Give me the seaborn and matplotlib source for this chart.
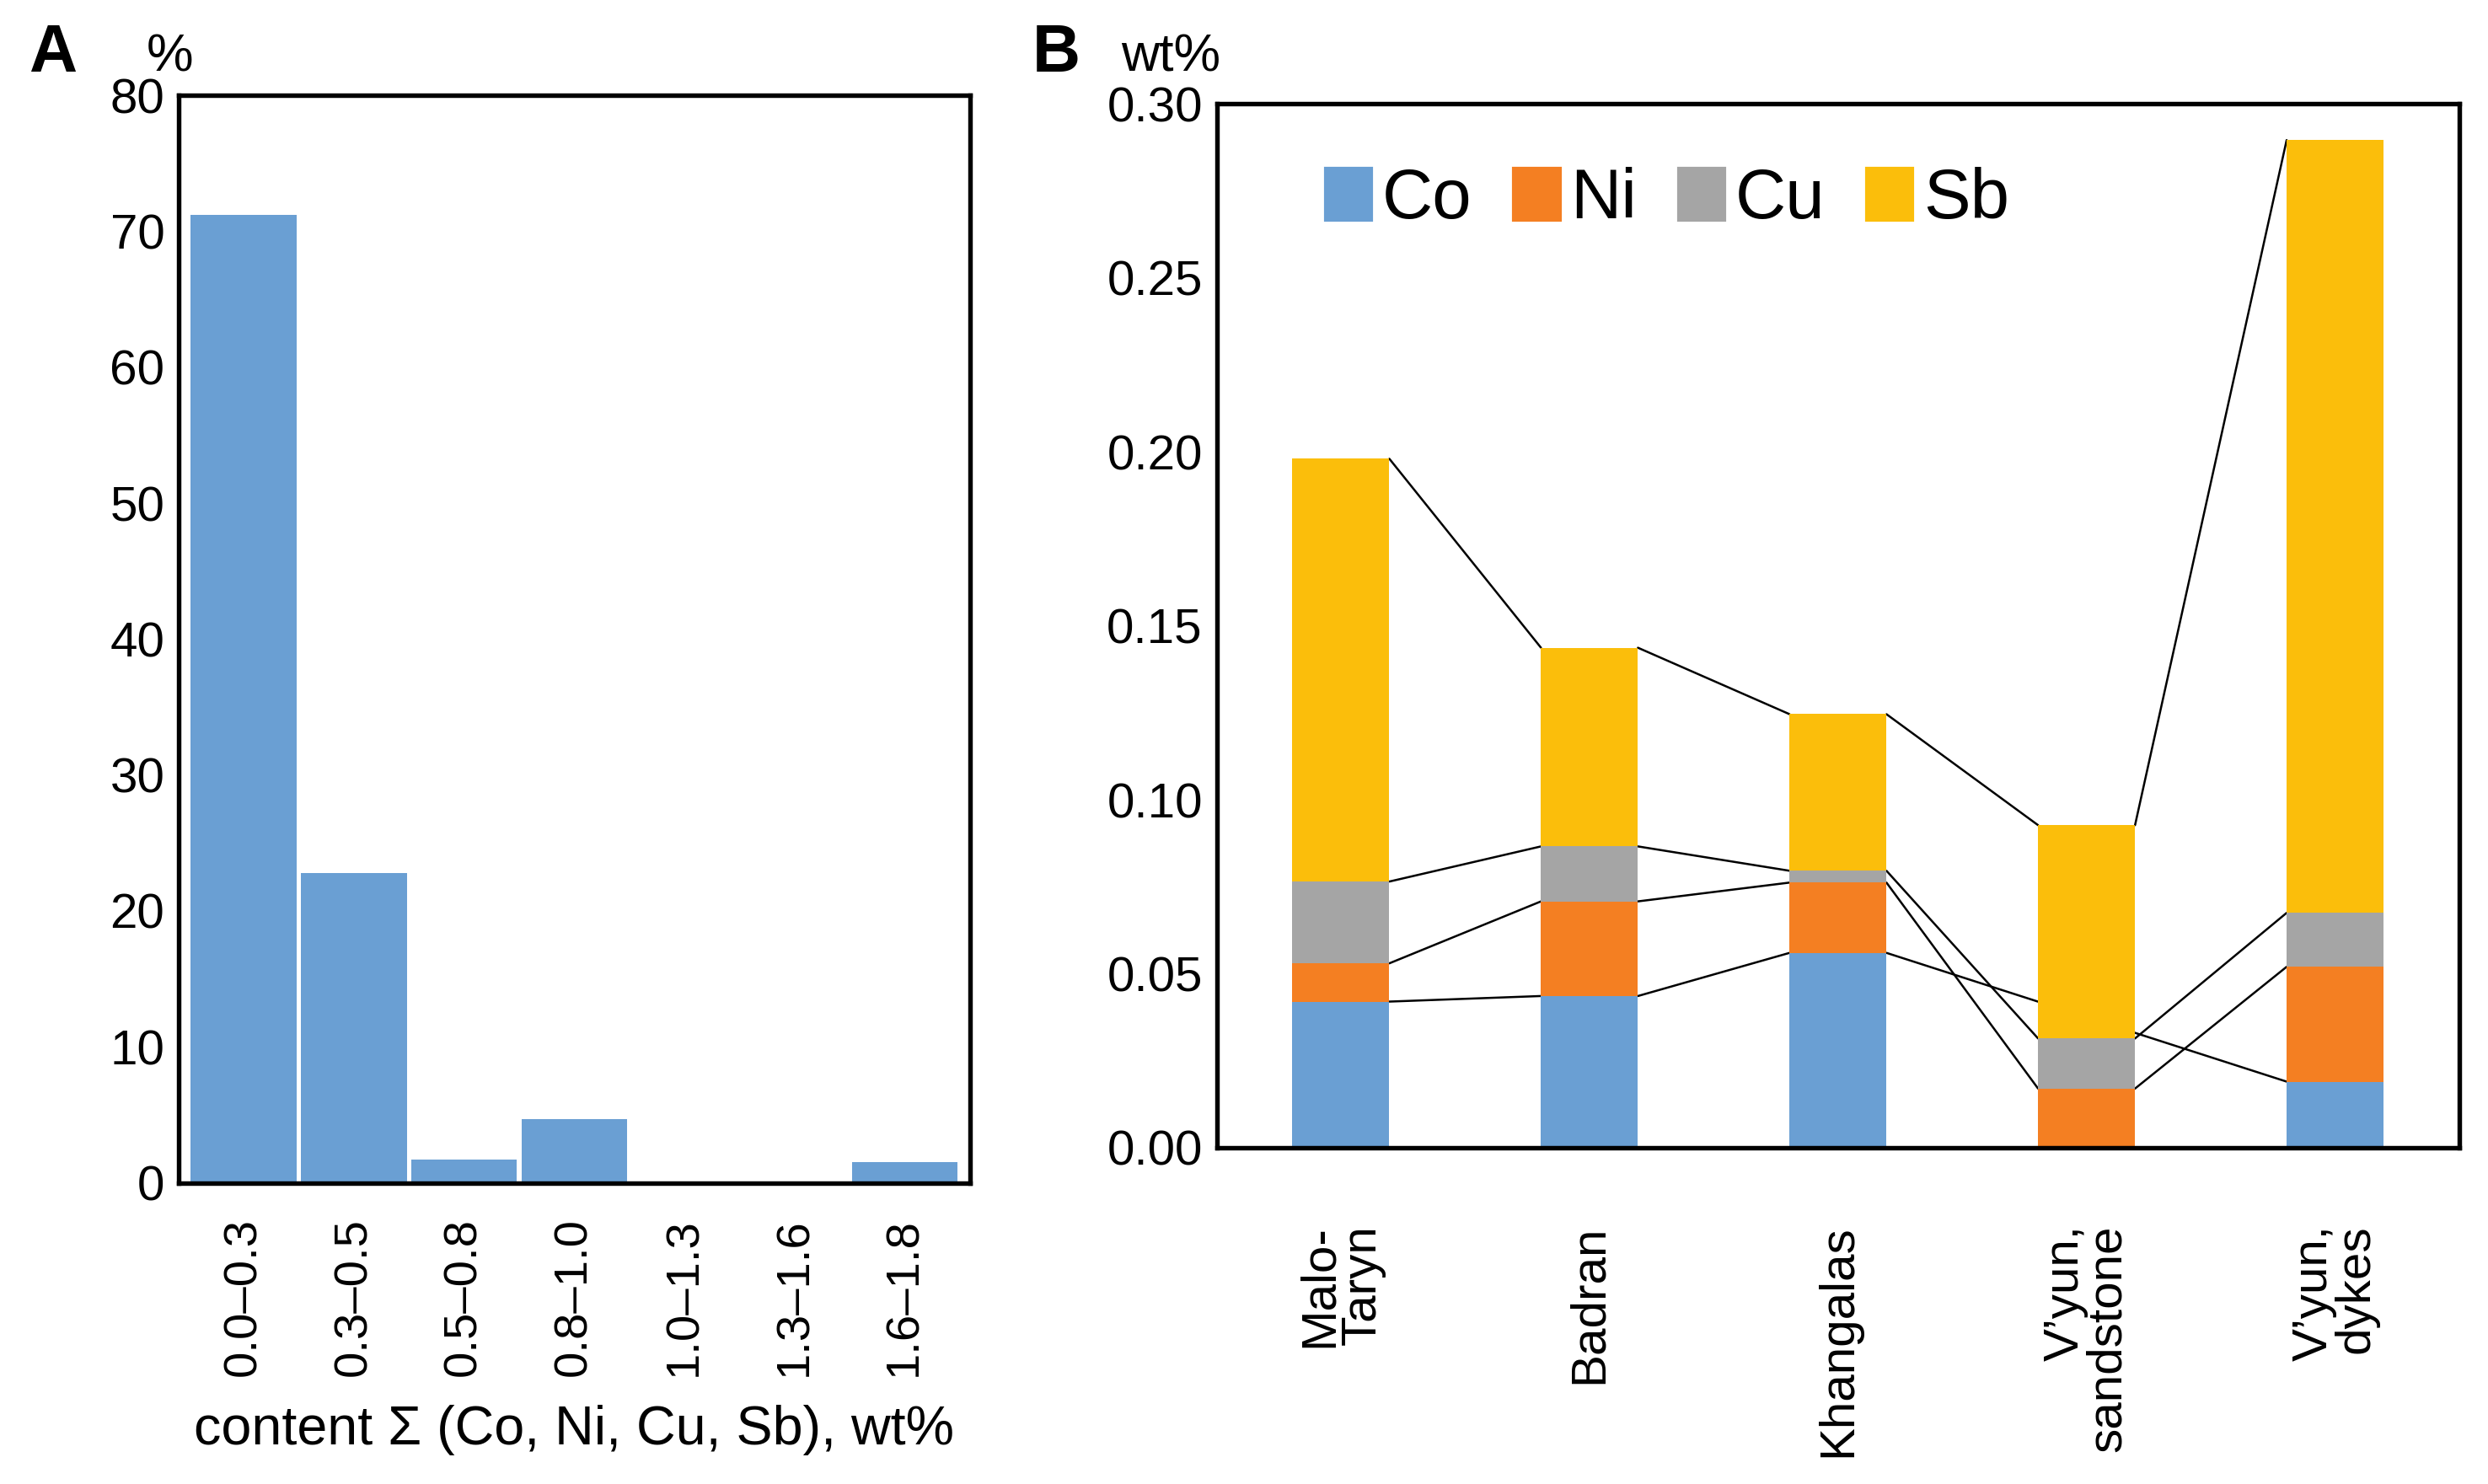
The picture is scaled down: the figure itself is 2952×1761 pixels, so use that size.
import numpy as np
import pandas as pd
import matplotlib
matplotlib.use("Agg")
import matplotlib.pyplot as plt
import seaborn as sns

# panel A: share of samples by total content
bins = ["0.0–0.3", "0.3–0.5", "0.5–0.8", "0.8–1.0", "1.0–1.3", "1.3–1.6", "1.6–1.8"]
share = [71.2, 22.8, 1.7, 4.7, 0.0, 0.0, 1.5]

# panel B: mean contents, wt%
sites = ["Malo-\nTaryn", "Badran", "Khangalas", "V’yun,\nsandstone", "V’yun,\ndykes"]
co = [0.042, 0.0436, 0.056, 0.0, 0.019]
ni = [0.011, 0.0272, 0.0202, 0.017, 0.033]
cu = [0.0235, 0.0158, 0.0034, 0.0144, 0.0155]
sb = [0.1215, 0.0571, 0.045, 0.0613, 0.2221]

elements = ["Co", "Ni", "Cu", "Sb"]
colors = {"Co": "#6a9fd3", "Ni": "#f47f22", "Cu": "#a5a5a5", "Sb": "#fbbe0b"}

sns.set_theme(style="white")
plt.rcParams["font.family"] = ["Liberation Sans", "DejaVu Sans"]
plt.rcParams.update({"text.color": "black", "xtick.color": "black",
                     "ytick.color": "black", "axes.labelcolor": "black",
                     "axes.linewidth": 1.3})

fig = plt.figure(figsize=(9.84, 5.87), dpi=300)
axA = fig.add_axes([0.0718, 0.203, 0.318, 0.7326])
axB = fig.add_axes([0.489, 0.2266, 0.4995, 0.7034])

# ---- A
dfa = pd.DataFrame({"bin": bins, "share": share})
sns.barplot(data=dfa, x="bin", y="share", color="#6a9fd3", saturation=1,
            width=0.96, linewidth=0, edgecolor="none", ax=axA)
axA.set_xlim(-0.59, 6.59)
axA.set_ylim(0, 80)
axA.set_yticks(range(0, 81, 10))
axA.set_xlabel("content Σ (Co, Ni, Cu, Sb), wt%", fontsize=15.5, labelpad=8)
axA.set_ylabel("")
axA.tick_params(axis="x", rotation=90, labelsize=13.5, length=0, pad=10)
axA.tick_params(axis="y", labelsize=14, length=0, pad=4)

# ---- B  stacked bars, drawn as cumulative totals from the top down
dfb = pd.DataFrame({"site": sites, "Co": co, "Ni": ni, "Cu": cu, "Sb": sb})
cum = dfb[elements].cumsum(axis=1)
w = 0.39
for el in elements[::-1]:
    sns.barplot(x=dfb["site"], y=cum[el], color=colors[el], saturation=1,
                width=w, linewidth=0, edgecolor="none", ax=axB, zorder=2)

# series lines between segment tops (skip missing segments)
for el in elements:
    idx = [i for i in range(len(sites)) if dfb[el][i] > 0]
    for a, b in zip(idx[:-1], idx[1:]):
        axB.plot([a + w / 2, b - w / 2], [cum[el][a], cum[el][b]],
                 color="black", lw=0.6, zorder=1)

axB.set_xlim(-0.5, 4.5)
axB.set_ylim(0, 0.30)
axB.set_yticks(np.arange(0, 0.301, 0.05))
axB.yaxis.set_major_formatter(matplotlib.ticker.FormatStrFormatter("%.2f"))
axB.set_xlabel("")
axB.set_ylabel("")
axB.tick_params(axis="y", labelsize=14, length=0, pad=4)
axB.tick_params(axis="x", length=0, pad=22)
for t in axB.get_xticklabels():
    t.set_rotation(90)
    t.set_fontsize(14)
    t.set_va("top")
    t.set_ha("center")
    t.set_multialignment("right")
    t.set_linespacing(0.92)

handles = [matplotlib.patches.Patch(color=colors[e]) for e in elements]
axB.legend(handles, elements, loc="center left", bbox_to_anchor=(0.037, 0.908),
           ncol=4, frameon=False, fontsize=20, handlelength=0.65,
           handleheight=0.75, handletextpad=0.15, columnspacing=0.6)

for ax in (axA, axB):
    for s in ax.spines.values():
        s.set_color("black")
        s.set_linewidth(1.3)

fig.text(0.0115, 0.952, "A", fontsize=19, fontweight="bold")
fig.text(0.059, 0.952, "%", fontsize=15)
fig.text(0.415, 0.952, "B", fontsize=19, fontweight="bold")
fig.text(0.4506, 0.952, "wt%", fontsize=15)

fig.savefig("out.png", dpi=300)
